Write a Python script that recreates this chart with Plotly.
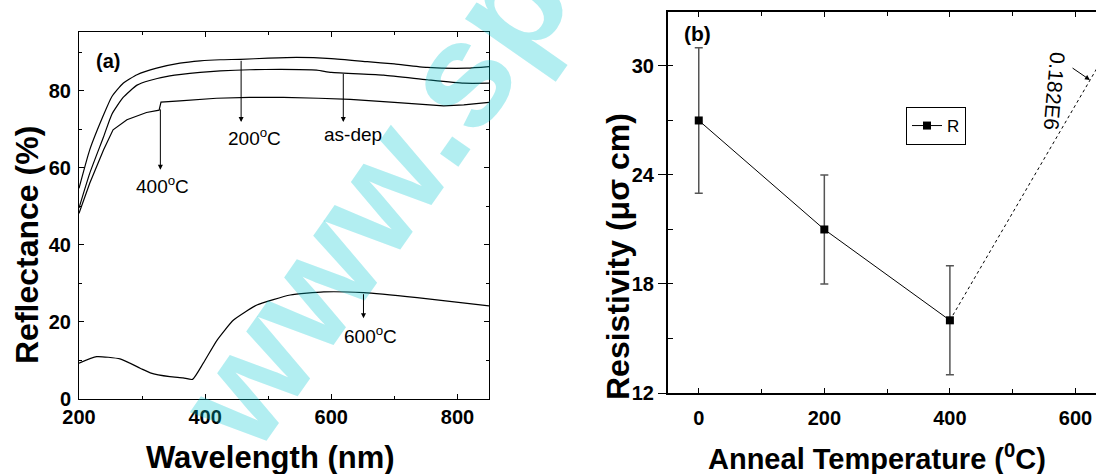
import plotly.graph_objects as go

# ---------------- data: panel (a) reflectance ----------------
wl_200 = [200, 217, 239, 252, 270, 292, 323, 360, 392, 424, 456, 500, 545, 600, 657, 700, 752, 815, 850]
r_200 = [54.7, 64.7, 73.8, 78.5, 82.0, 84.2, 85.9, 87.2, 87.8, 88.1, 88.2, 88.5, 88.7, 88.4, 87.6, 87.0, 86.1, 85.9, 86.3]

wl_asdep = [200, 217, 239, 252, 270, 292, 312, 344, 392, 424, 471, 520, 577, 600, 683, 752, 810, 850]
r_asdep = [49.6, 58.6, 68.1, 73.9, 78.3, 81.5, 82.7, 83.9, 84.8, 85.2, 85.5, 85.6, 85.4, 84.8, 84.1, 82.9, 82.0, 82.0]

wl_400 = [200, 217, 239, 254, 276, 307, 327, 330, 360, 418, 470, 524, 580, 630, 700, 778, 810, 850]
r_400 = [48.2, 56.0, 64.7, 69.9, 72.5, 74.4, 75.0, 77.1, 77.4, 78.1, 78.3, 78.3, 78.1, 77.8, 77.0, 76.1, 76.4, 77.0]

wl_600 = [200, 228, 265, 297, 313, 344, 365, 380, 397, 419, 445, 482, 535, 588, 651, 736, 850]
r_600 = [9.3, 11.0, 10.4, 8.0, 6.8, 5.8, 5.5, 5.1, 9.3, 15.3, 20.5, 24.4, 27.0, 27.8, 27.6, 26.3, 24.2]

# ---------------- data: panel (b) resistivity ----------------
temp = [0, 200, 400]
resist = [27, 21, 16]
resist_err = [4, 3, 3]
# dotted connector toward off-scale point (0.182E6 at 600 C), clipped at top of axis
offscale_x = [400, 687]
offscale_y = [16, 33]

FONT = "Liberation Sans, Arial, sans-serif"
WM = "rgba(0,200,210,0.30)"

fig = go.Figure()

line_kw = dict(color="black", width=1.2, shape="spline", smoothing=0.5)
fig.add_trace(go.Scatter(x=wl_200, y=r_200, mode="lines", line=line_kw, showlegend=False, xaxis="x", yaxis="y"))
fig.add_trace(go.Scatter(x=wl_asdep, y=r_asdep, mode="lines", line=line_kw, showlegend=False, xaxis="x", yaxis="y"))
fig.add_trace(go.Scatter(x=wl_400, y=r_400, mode="lines", line=dict(color="black", width=1.2), showlegend=False, xaxis="x", yaxis="y"))
fig.add_trace(go.Scatter(x=wl_600, y=r_600, mode="lines", line=line_kw, showlegend=False, xaxis="x", yaxis="y"))

fig.add_trace(go.Scatter(x=offscale_x, y=offscale_y, mode="lines",
                         line=dict(color="black", width=1, dash="dot"),
                         showlegend=False, xaxis="x2", yaxis="y2", cliponaxis=True))
fig.add_trace(go.Scatter(x=temp, y=resist, mode="lines+markers", name="R",
                         line=dict(color="black", width=1),
                         marker=dict(symbol="square", size=8, color="black"),
                         error_y=dict(type="data", array=resist_err, color="#555555", thickness=1.5, width=4),
                         xaxis="x2", yaxis="y2"))

W, H = 1096, 474
def px(x):
    return x / W
def py(y):
    return 1 - y / H

ax_common = dict(showgrid=False, zeroline=False, showline=True, linecolor="black", automargin=False,
                 tickcolor="black", tickfont=dict(family=FONT, size=20, color="black", weight="bold"))

fig.update_layout(
    width=W, height=H,
    margin=dict(l=0, r=0, t=0, b=0, pad=0, autoexpand=False),
    paper_bgcolor="white", plot_bgcolor="white",
    font=dict(family=FONT, color="black"),
    xaxis=dict(domain=[px(79), px(489)], range=[200, 850], tick0=200, dtick=200,
               ticks="inside", ticklen=5, mirror="allticks", linewidth=1,
               minor=dict(dtick=100, ticks="inside", ticklen=3, tickcolor="black"),
               anchor="y", ticklabelstandoff=0, **ax_common),
    yaxis=dict(domain=[py(399), py(32)], range=[0, 95.3], tick0=0, dtick=20,
               ticks="inside", ticklen=5, mirror="allticks", linewidth=1,
               minor=dict(dtick=10, ticks="inside", ticklen=3, tickcolor="black"),
               anchor="x", ticklabelstandoff=3, **ax_common),
    xaxis2=dict(domain=[px(668), 1.0], range=[-49, 632.7], tick0=0, dtick=200,
                ticks="inside", ticklen=5, mirror="allticks", linewidth=2,
                minor=dict(dtick=100, ticks="inside", ticklen=4, tickcolor="black"),
                anchor="y2", ticklabelstandoff=6, **ax_common),
    yaxis2=dict(domain=[py(393), py(12)], range=[12, 32.97], tick0=12, dtick=6,
                ticks="outside", ticklen=8, mirror=False, linewidth=2,
                minor=dict(dtick=3, ticks="inside", ticklen=5, tickcolor="black"),
                anchor="x2", ticklabelstandoff=0, **ax_common),
    legend=dict(x=px(906), y=py(107), xanchor="left", yanchor="top",
                bordercolor="black", borderwidth=1, bgcolor="white",
                font=dict(family=FONT, size=17, color="black"), itemwidth=30,
                tracegroupgap=0),
)

ann = []
C = dict(xanchor="center", yanchor="middle")
# watermark
ann.append(dict(text="<b>www.sp</b>", xref="paper", yref="paper", x=px(373), y=py(198),
                showarrow=False, textangle=-55, font=dict(family=FONT, size=150, color=WM), **C))

# axis titles
ann.append(dict(text="<b>Reflectance (%)</b>", xref="paper", yref="paper", x=px(27), y=py(245),
                textangle=-90, showarrow=False, font=dict(family=FONT, size=32, color="black"), **C))
ann.append(dict(text="<b>Wavelength (nm)</b>", xref="paper", yref="paper", x=px(270), y=py(457),
                showarrow=False, font=dict(family=FONT, size=31, color="black"), **C))
ann.append(dict(text="<b>Resistivity (μσ cm)</b>", xref="paper", yref="paper", x=px(618), y=py(257),
                textangle=-90, showarrow=False, font=dict(family=FONT, size=32, color="black"), **C))
ann.append(dict(text="<b>Anneal Temperature (<sup>0</sup>C)</b>", xref="paper", yref="paper", x=px(877), y=py(457),
                showarrow=False, font=dict(family=FONT, size=29, color="black"), **C))

# panel labels
ann.append(dict(text="<b>(a)</b>", xref="paper", yref="paper", x=px(108), y=py(61),
                showarrow=False, font=dict(family=FONT, size=20, color="black"), **C))
ann.append(dict(text="<b>(b)</b>", xref="paper", yref="paper", x=px(697), y=py(33),
                showarrow=False, font=dict(family=FONT, size=21, color="black"), **C))

# curve labels with arrows (panel a)
arrows = [
    (457, 88.2, 71.9, "200<sup>o</sup>C", 478, 68.1),
    (619, 84.8, 71.9, "as-dep", 635, 68.8),
    (329, 75.6, 59.5, "400<sup>o</sup>C", 333, 55.6),
    (651, 27.6, 21.0, "600<sup>o</sup>C", 662, 16.6),
]
for xa, ytail, yhead, label, xt, yt in arrows:
    ann.append(dict(x=xa, y=yhead, ax=xa, ay=ytail, xref="x", yref="y", axref="x", ayref="y",
                    text="", showarrow=True, arrowhead=2, arrowsize=1, arrowwidth=1, arrowcolor="black"))
    ann.append(dict(x=xt, y=yt, xref="x", yref="y", text=label, showarrow=False,
                    font=dict(family=FONT, size=19, color="black"), **C))

# off-scale value label (panel b)
ann.append(dict(x=623, y=29.23, ax=593, ay=29.94, xref="x2", yref="y2", axref="x2", ayref="y2",
                text="", showarrow=True, arrowhead=2, arrowsize=1, arrowwidth=1, arrowcolor="black"))
ann.append(dict(text="0.182E6", xref="paper", yref="paper", x=px(1055), y=py(91), textangle=95,
                showarrow=False, font=dict(family=FONT, size=21, color="black"), **C))

fig.update_layout(annotations=ann)
fig.write_html("out.html", config={"displayModeBar": False},
               post_script="document.body.style.margin='0';document.body.style.overflow='hidden';")
